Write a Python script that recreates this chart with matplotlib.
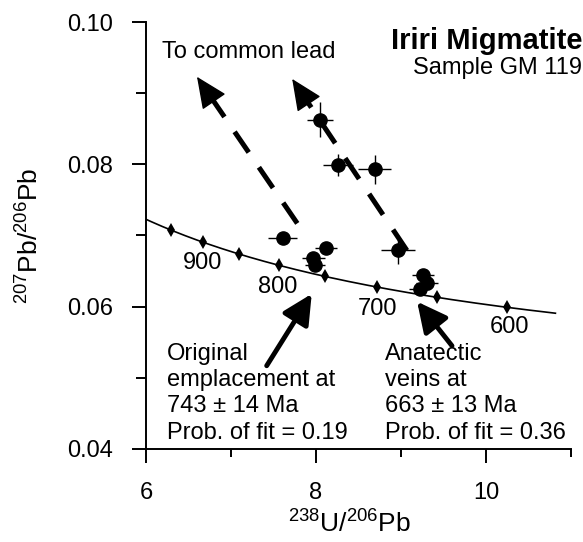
import numpy as np
import matplotlib
matplotlib.use("Agg")
import matplotlib.pyplot as plt

plt.rcParams['font.family'] = ['Liberation Sans', 'DejaVu Sans']
plt.rcParams['mathtext.fontset'] = 'custom'
plt.rcParams['mathtext.rm'] = 'Liberation Sans'

# zircon analyses (238U/206Pb, 207Pb/206Pb) with 1-sigma errors
u_pb = [8.05, 8.26, 8.69, 7.61, 8.12, 7.97, 7.99, 8.97, 9.26, 9.31, 9.22]
pb_pb = [0.0863, 0.0799, 0.0793, 0.0696, 0.0682, 0.0668, 0.0658, 0.0680, 0.0644, 0.0633, 0.0625]
u_err = [0.15, 0.18, 0.19, 0.17, 0.13, 0.14, 0.12, 0.20, 0.13, 0.13, 0.12]
pb_err = [0.0025, 0.0015, 0.0020, 0.0005, 0.0007, 0.0005, 0.0005, 0.0020, 0.0006, 0.0006, 0.0005]

# concordia age marks (Ma) and labelled ones
tick_ages = [950, 900, 850, 800, 750, 700, 650, 600]
label_ages = [900, 800, 700, 600]
label_pos = [(6.66, 0.0661), (7.55, 0.0627), (8.72, 0.0597), (10.28, 0.0571)]

# common-lead trajectories (start -> arrow tip)
lead_lines = [((7.78, 0.0717), (6.60, 0.0923)),
              ((9.07, 0.0679), (7.72, 0.0920))]

L238 = 1.55125e-10
L235 = 9.8485e-10
U_RATIO = 137.88


def concordia(t_ma):
    t = np.asarray(t_ma) * 1e6
    e8 = np.exp(L238 * t) - 1
    e5 = np.exp(L235 * t) - 1
    return 1 / e8, e5 / e8 / U_RATIO


fig = plt.figure(figsize=(5.83, 5.42), dpi=100)
ax = fig.add_axes([0.2504, 0.1716, 0.729, 0.7878])

t_curve = np.linspace(570, 1000, 400)
cx, cy = concordia(t_curve)
ax.plot(cx, cy, color='k', lw=1.2, zorder=2)
tx, ty = concordia(tick_ages)
ax.plot(tx, ty, ls='none', marker='d', ms=7, mew=0, color='k', zorder=2)
for age, (lx, ly) in zip(label_ages, label_pos):
    ax.text(lx, ly, str(age), fontsize=17, ha='center', va='center')

for (x0, y0), (x1, y1) in lead_lines:
    # dashed shaft stops short of the head
    f = 0.1
    xs, ys = x1 + (x0 - x1) * f, y1 + (y0 - y1) * f
    ax.plot([x0, xs], [y0, ys], color='k', lw=3.6, ls=(0, (5, 3.6)),
            solid_capstyle='butt', dash_capstyle='butt', zorder=3)
    ax.annotate('', xy=(x1, y1), xytext=(x1 + (x0 - x1) * 0.12, y1 + (y0 - y1) * 0.12),
                arrowprops=dict(arrowstyle='-|>,head_length=1.0,head_width=0.45',
                                color='k', lw=1, mutation_scale=20, shrinkA=0, shrinkB=0))

ax.errorbar(u_pb, pb_pb, xerr=u_err, yerr=pb_err, fmt='o', color='k', ms=9.5,
            ecolor='k', elinewidth=1, capsize=0, zorder=4)

# arrows to the intercepts
for tail, tip in [((7.42, 0.0517), (7.95, 0.0618)), ((9.60, 0.0545), (9.19, 0.0607))]:
    ax.annotate('', xy=tip, xytext=tail,
                arrowprops=dict(arrowstyle='-|>,head_length=0.9,head_width=0.45',
                                color='k', lw=3.5, mutation_scale=20, shrinkA=0, shrinkB=0))

ax.text(6.25, 0.0549, 'Original\nemplacement at\n743 ± 14 Ma\nProb. of fit = 0.19',
        fontsize=17, ha='left', va='top', linespacing=1.25)
ax.text(8.81, 0.0549, 'Anatectic\nveins at\n663 ± 13 Ma\nProb. of fit = 0.36',
        fontsize=17, ha='left', va='top', linespacing=1.25)
ax.text(6.19, 0.0958, 'To common lead', fontsize=17, ha='left', va='center')
ax.text(11.13, 0.0973, 'Iriri Migmatite', fontsize=21, fontweight='bold', ha='right', va='center')
ax.text(11.13, 0.0935, 'Sample GM 119', fontsize=17, ha='right', va='center')

ax.set_xlim(6, 11)
ax.set_ylim(0.04, 0.10)
ax.set_xticks([6, 8, 10])
ax.set_xticks([7, 9, 11], minor=True)
ax.set_yticks([0.04, 0.06, 0.08, 0.10])
ax.set_yticks([0.05, 0.07, 0.09], minor=True)
ax.set_yticklabels(['0.04', '0.06', '0.08', '0.10'])
ax.tick_params(which='major', length=10, width=1.4, labelsize=17, pad=14)
ax.tick_params(axis='x', which='minor', length=6, width=1.4)
ax.tick_params(axis='y', which='minor', length=7, width=1.4)
for s in ['top', 'right']:
    ax.spines[s].set_visible(False)
for s in ['left', 'bottom']:
    ax.spines[s].set_linewidth(1.4)

ax.set_xlabel(r'$\mathregular{^{238}U/^{206}Pb}$', fontsize=19, va='center')
ax.xaxis.set_label_coords(0.48, -0.175)
ax.set_ylabel(r'$\mathregular{^{207}Pb/^{206}Pb}$', fontsize=19, va='center')
ax.yaxis.set_label_coords(-0.273, 0.5)

fig.savefig('out.png', dpi=100)
